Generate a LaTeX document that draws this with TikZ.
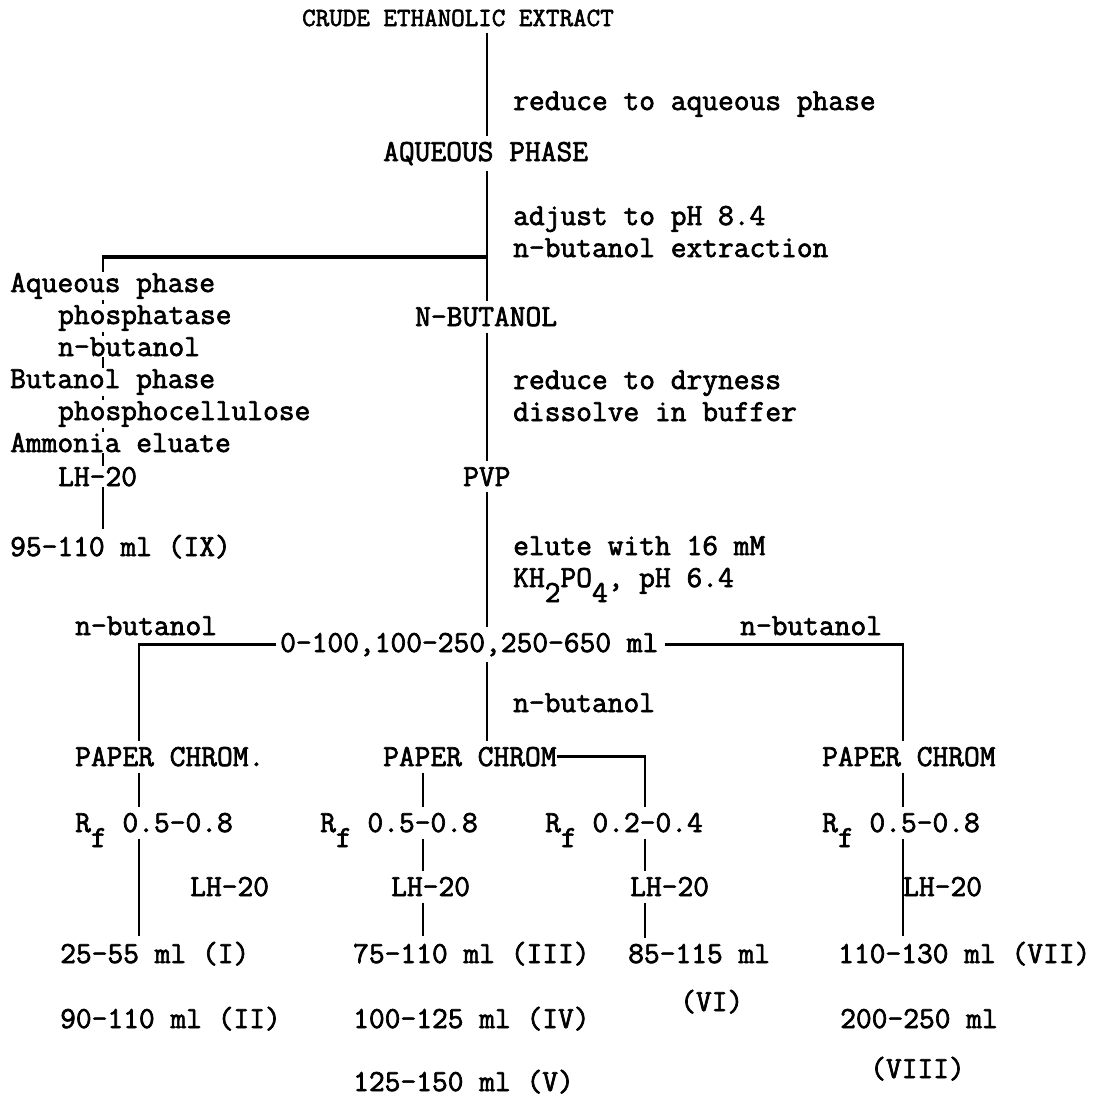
\documentclass[tikz,border=0pt]{standalone}
\usepackage{fontspec}
\newfontfamily\tw{Latin Modern Mono}[FakeBold=2.2]
% lowered character that adds no height or depth to its line
\newcommand\lowered[1]{\raisebox{-15pt}[0pt][0pt]{#1}}
\tikzset{
  txt/.style={anchor=base west, inner xsep=0pt, inner ysep=6pt,
              font=\tw\fontsize{30.6}{36}\selectfont},
  ttl/.style={txt, font=\tw\fontsize{26.3}{32}\selectfont},
  col/.style={txt, inner ysep=1pt, fill=white},
  conn/.style={line width=2.8pt, line cap=butt, line join=miter},
}
\begin{document}
\begin{tikzpicture}[x=1pt,y=-1pt]
\useasboundingbox[fill=white] (0,0) rectangle (1106,1098);

% x positions of the vertical runs
\coordinate (tx)  at (487,0);
\coordinate (lxu) at (103,0);
\coordinate (lx)  at (139,0);
\coordinate (mx)  at (423,0);
\coordinate (sx)  at (645,0);
\coordinate (rx)  at (903,0);
\coordinate (fork) at (487,257);
\coordinate (corner) at (103,257);

% main stem
\node[ttl] (crude)  at (302,26)  {CRUDE ETHANOLIC EXTRACT};
\node[txt] (red1)   at (513,110) {reduce to aqueous phase};
\node[txt] (aq)     at (383,161) {AQUEOUS PHASE};
\node[txt] (adj)    at (513,225) {adjust to pH 8.4};
\node[txt] (nbx)    at (513,257) {n-butanol extraction};
\node[txt] (nbut)   at (415,326) {N-BUTANOL};
\node[txt] (red2)   at (513,389) {reduce to dryness};
\node[txt] (diss)   at (513,421) {dissolve in buffer};
\node[txt] (pvp)    at (463,486) {PVP};
\node[txt] (elute)  at (513,555) {elute with 16 mM};
\node[txt] (kh)     at (513,587) {KH\lowered{2}PO\lowered{4}, pH 6.4};
\node[txt] (ranges) at (280,652) {0-100,100-250,250-650 ml};
\node[txt] (nbl)    at (75,635)  {n-butanol};
\node[txt] (nbr)    at (740,635) {n-butanol};
\node[txt] (nbm)    at (513,712) {n-butanol};

% paper chromatography stage
\node[txt] (pcl) at (75,766)  {PAPER CHROM.};
\node[txt] (pcm) at (383,766) {PAPER CHROM};
\node[txt] (pcr) at (822,766) {PAPER CHROM};

\draw[conn] (crude.south -| tx) -- (aq.north -| tx);
\draw[conn] (aq.south -| tx) -- (nbut.north -| tx);
\draw[conn] (nbut.south -| tx) -- (pvp.north -| tx);
\draw[conn] (pvp.south -| tx) -- (ranges.north -| tx);
\draw[conn] (ranges.south -| tx) -- (pcm.north -| tx);

% aqueous-phase side branch
\node[txt] (ix) at (10,556) {95-110 ml (IX)};
\draw[conn, line width=2.2pt] ([yshift=-1pt]corner) -- (ix.north -| lxu);
\draw[conn, line width=3.8pt] (fork) -- ([xshift=-1pt]corner);
\node[col] (aqph)  at (10,292) {Aqueous phase};
\node[col] (phos)  at (58,324) {phosphatase};
\node[col] (nbu1)  at (58,356) {n-butanol};
\node[col] (buph)  at (10,388) {Butanol phase};
\node[col] (pcell) at (58,420) {phosphocellulose};
\node[col] (amm)   at (10,452) {Ammonia eluate};
\node[col] (lha)   at (58,486) {LH-20};

\node[txt] (rfl) at (75,832)  {R\lowered{f} 0.5-0.8};
\node[txt] (rfm) at (320,832) {R\lowered{f} 0.5-0.8};
\node[txt] (rfs) at (545,832) {R\lowered{f} 0.2-0.4};
\node[txt] (rfr) at (822,832) {R\lowered{f} 0.5-0.8};

\node[txt] (lhl) at (190,896) {LH-20};
\node[txt] (lhm) at (391,896) {LH-20};
\node[txt] (lhs) at (630,896) {LH-20};
\node[txt] (lhr) at (903,896) {LH-20};

\node[txt] (fI)     at (60,963)   {25-55 ml (I)};
\node[txt] (fII)    at (60,1028)  {90-110 ml (II)};
\node[txt] (fIII)   at (353,963)  {75-110 ml (III)};
\node[txt] (fIV)    at (353,1028) {100-125 ml (IV)};
\node[txt] (fV)     at (353,1091) {125-150 ml (V)};
\node[txt] (fVIa)   at (628,963)  {85-115 ml};
\node[txt] (fVIb)   at (680,1011) {(VI)};
\node[txt] (fVII)   at (838,963)  {110-130 ml (VII)};
\node[txt] (fVIIIa) at (840,1028) {200-250 ml};
\node[txt] (fVIIIb) at (870,1078) {(VIII)};

% branches from the PVP eluates
\draw[conn, shorten <=4pt] (ranges.west) -| (pcl.north -| lx);
\draw[conn, shorten <=6pt] (ranges.east) -| (pcr.north -| rx);

\draw[conn] (pcl.south -| lx) -- (rfl.north -| lx);
\draw[conn] (rfl.south -| lx) -- (fI.north -| lx);

\draw[conn] (pcm.south -| mx) -- (rfm.north -| mx);
\draw[conn] (rfm.south -| mx) -- (lhm.north -| mx);
\draw[conn] (lhm.south -| mx) -- (fIII.north -| mx);

\draw[conn] (pcm.east) -| (rfs.north -| sx);
\draw[conn] (rfs.south -| sx) -- (lhs.north -| sx);
\draw[conn] (lhs.south -| sx) -- (fVIa.north -| sx);

\draw[conn] (pcr.south -| rx) -- (rfr.north -| rx);
\draw[conn] (rfr.south -| rx) -- (fVII.north -| rx);
\end{tikzpicture}
\end{document}
